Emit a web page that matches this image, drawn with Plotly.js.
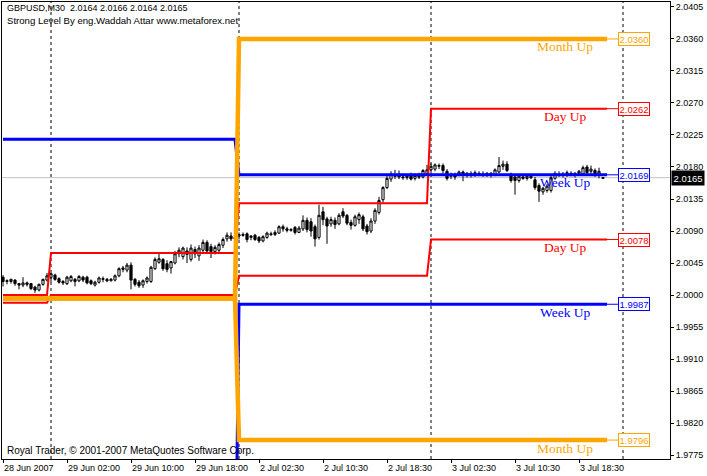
<!DOCTYPE html>
<html><head><meta charset="utf-8">
<script src="https://cdn.plot.ly/plotly-3.0.1.min.js"></script>
<style>html,body{margin:0;padding:0;background:#fff;}#chart{width:707px;height:476px;}</style>
</head><body><div id="chart"></div>
<script>
// ---- GBPUSD M30 bars (bar 0 = 28 Jun 2007 18:00) ----
const barOpen = [2.0025,2.0019,2.0019,2.0021,2.0016,2.0014,2.0017,2.0016,2.0011,2.0007,2.0015,2.0021,
2.0025,2.0028,2.0023,2.0019,2.0016,2.0020,2.0022,2.0020,2.0025,2.0025,2.0020,2.0014,2.0018,2.0022,2.0022,2.0020,2.0021,2.0027,2.0036,2.0035,2.0042,2.0022,2.0018,2.0014,2.0019,2.0019,2.0037,2.0046,2.0050,2.0044,2.0038,2.0045,2.0058,2.0054,2.0062,2.0050,2.0064,2.0055,2.0063,2.0074,2.0068,2.0061,2.0063,2.0070,2.0079,2.0083,2.0079,
2.0083,2.0085,2.0086,2.0081,2.0084,2.0081,2.0076,2.0081,2.0086,2.0085,2.0087,2.0096,2.0093,2.0091,2.0095,2.0088,2.0093,2.0105,2.0103,2.0096,2.0081,2.0117,2.0107,2.0100,2.0105,2.0100,2.0117,2.0112,2.0102,2.0098,2.0106,2.0110,2.0097,2.0090,2.0104,2.0116,2.0134,2.0151,2.0163,2.0169,2.0170,2.0166,2.0165,2.0168,2.0164,2.0167,2.0166,2.0171,
2.0176,2.0177,2.0181,2.0182,2.0174,2.0167,2.0168,2.0168,2.0173,2.0168,2.0171,2.0169,2.0171,2.0170,2.0168,2.0171,2.0169,2.0173,2.0181,2.0184,2.0170,2.0166,2.0161,2.0166,2.0164,2.0167,2.0162,2.0154,2.0145,2.0147,2.0147,2.0164,2.0170,2.0168,2.0170,2.0171,2.0169,2.0171,2.0170,2.0180,2.0174,2.0175,2.0169,2.0164];
const barHigh = [2.0028,2.0022,2.0023,2.0022,2.0017,2.0025,2.0019,2.0017,2.0013,2.0016,2.0023,2.0031,
2.0031,2.0030,2.0025,2.0021,2.0027,2.0028,2.0024,2.0028,2.0027,2.0027,2.0022,2.0020,2.0026,2.0026,2.0024,2.0024,2.0029,2.0039,2.0041,2.0045,2.0046,2.0024,2.0021,2.0022,2.0026,2.0041,2.0053,2.0060,2.0052,2.0049,2.0048,2.0062,2.0067,2.0068,2.0067,2.0071,2.0068,2.0070,2.0078,2.0077,2.0072,2.0070,2.0074,2.0081,2.0088,2.0088,2.0086,
2.0088,2.0088,2.0088,2.0084,2.0086,2.0083,2.0084,2.0089,2.0089,2.0091,2.0098,2.0099,2.0096,2.0094,2.0097,2.0097,2.0112,2.0109,2.0108,2.0099,2.0127,2.0124,2.0110,2.0110,2.0109,2.0115,2.0122,2.0114,2.0106,2.0113,2.0116,2.0113,2.0100,2.0108,2.0122,2.0138,2.0153,2.0168,2.0174,2.0176,2.0175,2.0171,2.0170,2.0172,2.0171,2.0172,2.0177,2.0183,
2.0185,2.0185,2.0185,2.0185,2.0177,2.0172,2.0172,2.0175,2.0175,2.0173,2.0174,2.0175,2.0174,2.0174,2.0173,2.0173,2.0178,2.0194,2.0189,2.0188,2.0172,2.0168,2.0169,2.0170,2.0169,2.0170,2.0166,2.0157,2.0152,2.0156,2.0168,2.0174,2.0174,2.0173,2.0175,2.0174,2.0173,2.0176,2.0182,2.0183,2.0182,2.0178,2.0179,2.0166];
const barLow = [2.0012,2.0015,2.0016,2.0013,2.0008,2.0011,2.0012,2.0007,2.0003,2.0005,2.0013,2.0019,
2.0018,2.0020,2.0016,2.0014,2.0014,2.0018,2.0012,2.0018,2.0018,2.0015,2.0014,2.0012,2.0016,2.0018,2.0018,2.0019,2.0019,2.0025,2.0032,2.0032,2.0008,2.0012,2.0010,2.0010,2.0016,2.0017,2.0035,2.0044,2.0034,2.0032,2.0030,2.0043,2.0053,2.0050,2.0045,2.0047,2.0052,2.0048,2.0060,2.0059,2.0052,2.0057,2.0060,2.0066,2.0075,2.0076,2.0077,
2.0078,2.0082,2.0074,2.0077,2.0076,2.0073,2.0074,2.0079,2.0083,2.0083,2.0086,2.0089,2.0088,2.0089,2.0085,2.0087,2.0090,2.0088,2.0082,2.0068,2.0078,2.0098,2.0072,2.0096,2.0093,2.0098,2.0108,2.0098,2.0092,2.0096,2.0100,2.0090,2.0085,2.0087,2.0100,2.0113,2.0130,2.0149,2.0159,2.0163,2.0163,2.0162,2.0162,2.0161,2.0161,2.0163,2.0164,2.0168,
2.0167,2.0174,2.0177,2.0171,2.0161,2.0163,2.0162,2.0167,2.0160,2.0165,2.0165,2.0166,2.0167,2.0166,2.0166,2.0165,2.0167,2.0171,2.0176,2.0173,2.0158,2.0141,2.0158,2.0162,2.0161,2.0163,2.0148,2.0131,2.0141,2.0144,2.0144,2.0162,2.0166,2.0165,2.0166,2.0167,2.0165,2.0168,2.0168,2.0169,2.0170,2.0166,2.0164,2.0164];
const barClose = [2.0019,2.0020,2.0022,2.0016,2.0014,2.0017,2.0015,2.0009,2.0007,2.0015,2.0022,2.0027,
2.0030,2.0022,2.0018,2.0017,2.0025,2.0026,2.0019,2.0026,2.0021,2.0017,2.0016,2.0018,2.0024,2.0023,2.0020,2.0022,2.0027,2.0037,2.0038,2.0042,2.0021,2.0015,2.0013,2.0020,2.0024,2.0039,2.0050,2.0051,2.0037,2.0036,2.0047,2.0058,2.0063,2.0066,2.0057,2.0066,2.0058,2.0066,2.0074,2.0062,2.0061,2.0067,2.0071,2.0078,2.0084,2.0079,2.0081,
2.0085,2.0084,2.0078,2.0083,2.0078,2.0076,2.0082,2.0087,2.0085,2.0088,2.0096,2.0093,2.0091,2.0092,2.0088,2.0094,2.0105,2.0092,2.0090,2.0079,2.0112,2.0106,2.0097,2.0106,2.0099,2.0112,2.0111,2.0101,2.0098,2.0110,2.0113,2.0093,2.0089,2.0104,2.0119,2.0133,2.0151,2.0164,2.0170,2.0167,2.0166,2.0165,2.0167,2.0163,2.0168,2.0166,2.0175,2.0176,
2.0181,2.0183,2.0182,2.0175,2.0164,2.0168,2.0166,2.0173,2.0168,2.0171,2.0169,2.0172,2.0170,2.0168,2.0171,2.0169,2.0176,2.0182,2.0184,2.0175,2.0161,2.0161,2.0167,2.0164,2.0167,2.0165,2.0151,2.0146,2.0150,2.0153,2.0165,2.0171,2.0168,2.0170,2.0172,2.0169,2.0171,2.0174,2.0179,2.0172,2.0177,2.0169,2.0174,2.0165];

// ---- time axis ----
const tickBars = [0,16,32,48,64,80,96,112,128,144];
const tickLabels = ["28 Jun 2007","29 Jun 02:00","29 Jun 10:00","29 Jun 18:00","2 Jul 02:30","2 Jul 10:30","2 Jul 18:30","3 Jul 02:30","3 Jul 10:30","3 Jul 18:30"];
const daySeparators = [12,59,107,155];

// ---- Strong Level indicator levels ----
const dayStarts = [0,12,59,107];
const dayUpper = [2.0000,2.0059,2.0129,2.0262];
const dayLower = [1.9989,2.0000,2.0027,2.0078];
const weekStarts = [0,59];
const weekUpper = [2.0219,2.0169];
const weekLower = [1.9550,1.9987];
const monthStarts = [0,59];
const monthUpper = [1.9995,2.0360];
const monthLower = [1.9995,1.9796];
const lastPrice = 2.0165;

const ORANGE = '#FFA500', RED = '#FF0000', BLUE = '#0000FF';
const lastBar = barClose.length - 1;
const lineEnd = lastBar + 1;
const boxBar = lastBar + 3.75;
const labelBar = 140.6;

function stepPath(starts, values) {
  const xs = [], ys = [];
  for (let k = 0; k < starts.length; k++) {
    const e = (k + 1 < starts.length) ? starts[k + 1] - 1 : lineEnd;
    xs.push(starts[k], e); ys.push(values[k], values[k]);
  }
  return {xs, ys};
}
function levelTrace(starts, values, color, width) {
  const p = stepPath(starts, values);
  return {type:'scatter', mode:'lines', x:p.xs, y:p.ys, line:{color, width}, hoverinfo:'skip', showlegend:false};
}
function connector(value, color) {
  return {type:'scatter', mode:'lines', x:[lineEnd, boxBar], y:[value, value], line:{color, width:1}, hoverinfo:'skip', showlegend:false};
}

const xs = barClose.map((_, i) => i);
const traces = [
  {type:'candlestick', x:xs, open:barOpen, high:barHigh, low:barLow, close:barClose,
   increasing:{line:{color:'#000', width:1}, fillcolor:'#FFFFFF'},
   decreasing:{line:{color:'#000', width:1}, fillcolor:'#000000'},
   whiskerwidth:0, hoverinfo:'skip', showlegend:false},
  levelTrace(dayStarts, dayUpper, RED, 2),
  levelTrace(dayStarts, dayLower, RED, 2),
  levelTrace(weekStarts, weekUpper, BLUE, 3),
  levelTrace(weekStarts, weekLower, BLUE, 3),
  levelTrace(monthStarts, monthUpper, ORANGE, 4.5),
  levelTrace(monthStarts, monthLower, ORANGE, 4.5)
];
const finals = [
  [monthUpper[monthUpper.length-1], ORANGE, 'Month Up'],
  [dayUpper[dayUpper.length-1], RED, 'Day Up'],
  [weekUpper[weekUpper.length-1], BLUE, 'Week Up'],
  [dayLower[dayLower.length-1], RED, 'Day Up'],
  [weekLower[weekLower.length-1], BLUE, 'Week Up'],
  [monthLower[monthLower.length-1], ORANGE, 'Month Up']
];
finals.forEach(f => traces.push(connector(f[0], f[1])));

const annotations = [];
finals.forEach(f => {
  annotations.push({x:labelBar, y:f[0], xref:'x', yref:'y', text:f[2], showarrow:false, yshift:-8,
    font:{family:'Liberation Serif, Times New Roman, serif', size:13.5, color:f[1]}, xanchor:'center', yanchor:'middle'});
  annotations.push({x:boxBar, y:f[0], xref:'x', yref:'y', text:f[0].toFixed(4), showarrow:false,
    font:{family:'Liberation Sans, Arial, sans-serif', size:9.5, color:f[1]}, xanchor:'left', yanchor:'middle',
    bgcolor:'#FFFFFF', bordercolor:f[1], borderwidth:1, borderpad:0.5});
});
annotations.push({x:1, y:lastPrice, xref:'paper', yref:'y', text:lastPrice.toFixed(4), showarrow:false,
  xanchor:'left', yanchor:'middle', xshift:1, font:{family:'Liberation Sans, Arial, sans-serif', size:9.5, color:'#FFFFFF'},
  bgcolor:'#000000', borderpad:1.5});
annotations.push({x:0, y:1, xref:'paper', yref:'paper', xanchor:'left', yanchor:'top', xshift:3, yshift:1, showarrow:false, align:'left',
  text:'GBPUSD,M30&nbsp;&nbsp;2.0164 2.0166 2.0164 2.0165', font:{family:'Liberation Sans, Arial, sans-serif', size:9, color:'#000'}});
annotations.push({x:0, y:1, xref:'paper', yref:'paper', xanchor:'left', yanchor:'top', xshift:3, yshift:-11, showarrow:false, align:'left',
  text:'Strong Level By eng.Waddah Attar www.metaforex.net', font:{family:'Liberation Sans, Arial, sans-serif', size:9.6, color:'#000'}});
annotations.push({x:0, y:0, xref:'paper', yref:'paper', xanchor:'left', yanchor:'bottom', xshift:3, yshift:1, showarrow:false, align:'left',
  text:'Royal Trader, © 2001-2007 MetaQuotes Software Corp.', font:{family:'Liberation Sans, Arial, sans-serif', size:10, color:'#000'}});

const shapes = daySeparators.map(b => ({type:'line', xref:'x', yref:'paper', x0:b, x1:b, y0:0, y1:1,
  line:{color:'#000', width:1, dash:'3px,3px'}, layer:'below'}));
shapes.push({type:'line', xref:'paper', yref:'y', x0:0, x1:1, y0:lastPrice, y1:lastPrice, line:{color:'#C0C0C0', width:1}, layer:'below'});

const layout = {
  width:707, height:476, margin:{l:2, r:37, t:2, b:17},
  paper_bgcolor:'#FFFFFF', plot_bgcolor:'#FFFFFF', showlegend:false, boxgap:0.22,
  font:{family:'Liberation Sans, Arial, sans-serif', size:9, color:'#000'},
  xaxis:{type:'linear', range:[-0.25, 166.75], tickmode:'array', tickvals:tickBars, ticktext:tickLabels,
    ticks:'outside', ticklen:3, tickcolor:'#000', showgrid:false, zeroline:false, showline:true, mirror:true,
    linecolor:'#000', linewidth:1, rangeslider:{visible:false}, ticklabelposition:'outside right',
    tickfont:{size:9, color:'#000'}, fixedrange:true},
  yaxis:{side:'right', range:[1.97694, 2.0412], tick0:1.9775, dtick:0.0045, tickformat:'.4f',
    ticks:'outside', ticklen:3, tickcolor:'#000', showgrid:false, zeroline:false, showline:true, mirror:true,
    linecolor:'#000', linewidth:1, tickfont:{size:9, color:'#000'}, fixedrange:true},
  annotations, shapes
};
Plotly.newPlot('chart', traces, layout, {staticPlot:true, displayModeBar:false});
</script></body></html>
